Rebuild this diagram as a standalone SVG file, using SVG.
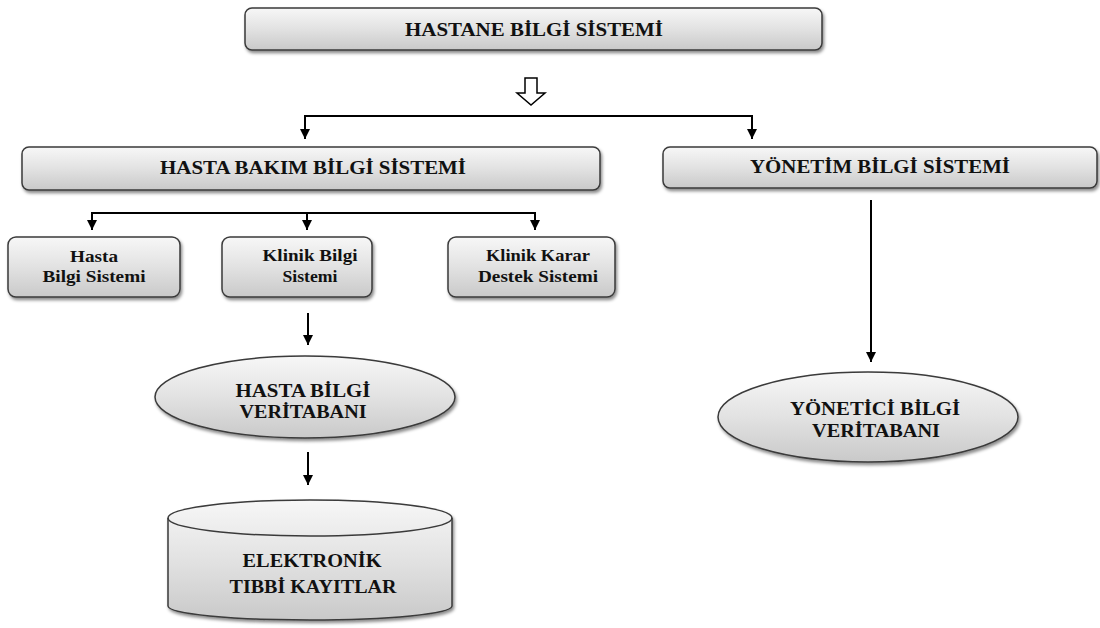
<svg xmlns="http://www.w3.org/2000/svg" width="1100" height="628" viewBox="0 0 1100 628">
<defs>
<linearGradient id="g" x1="0" y1="0" x2="0" y2="1">
<stop offset="0" stop-color="#f7f7f7"/>
<stop offset="0.5" stop-color="#e2e2e2"/>
<stop offset="1" stop-color="#c9c9c9"/>
</linearGradient>
<filter id="sh" x="-10%" y="-20%" width="120%" height="150%">
<feDropShadow dx="1.5" dy="2.5" stdDeviation="1.5" flood-color="#000" flood-opacity="0.45"/>
</filter>
<marker id="a" viewBox="0 0 10 10" refX="10" refY="5" markerWidth="10" markerHeight="10" markerUnits="userSpaceOnUse" orient="auto">
<path d="M0,0 L10,5 L0,10 z" fill="#000"/>
</marker>
</defs>
<style>
.box{fill:url(#g);stroke:#3a3a3a;stroke-width:1.5;filter:url(#sh)}
.t{font-family:"Liberation Serif",serif;font-weight:bold;fill:#111;text-anchor:middle}
.big{font-size:18px}
.db{font-size:19px}
.sm{font-size:17px}
.c{fill:none;stroke:#000;stroke-width:2}
</style>
<rect width="1100" height="628" fill="#fff"/>
<g id="connectors">
<path d="M525,78 h12 v15 h8 l-14,12 l-14,-12 h8 z" fill="#fff" stroke="#000" stroke-width="1.5"/>
<path class="c" d="M305,139 V116 H752 V139" marker-end="url(#a)"/>
<path class="c" d="M305,116 V139" marker-end="url(#a)"/>
<path class="c" d="M92,230 V213 H535 V230" marker-end="url(#a)"/>
<path class="c" d="M92,213 V230" marker-end="url(#a)"/>
<path class="c" d="M307,213 V230" marker-end="url(#a)"/>
<path class="c" d="M308,313 V345" marker-end="url(#a)"/>
<path class="c" d="M308,452 V485" marker-end="url(#a)"/>
<path class="c" d="M871,200 V362" marker-end="url(#a)"/>
</g>
<g id="n-hbs">
<rect class="box" x="245" y="8" width="577" height="42" rx="7"/>
<text class="t big" x="534" y="36" textLength="258" lengthAdjust="spacingAndGlyphs">HASTANE  BİLGİ SİSTEMİ</text>
</g>
<g id="n-hbbs">
<rect class="box" x="22" y="147" width="578" height="43" rx="7"/>
<text class="t big" x="313" y="174" textLength="306" lengthAdjust="spacingAndGlyphs">HASTA BAKIM BİLGİ SİSTEMİ</text>
</g>
<g id="n-ybs">
<rect class="box" x="663" y="147" width="434" height="41" rx="7"/>
<text class="t big" x="880" y="173" textLength="260" lengthAdjust="spacingAndGlyphs">YÖNETİM  BİLGİ SİSTEMİ</text>
</g>
<g id="n-hasta">
<rect class="box" x="8" y="237" width="172" height="60" rx="8"/>
<text class="t sm" x="94" y="262" textLength="48" lengthAdjust="spacingAndGlyphs">Hasta</text>
<text class="t sm" x="94" y="282" textLength="103" lengthAdjust="spacingAndGlyphs">Bilgi Sistemi</text>
</g>
<g id="n-klinik">
<rect class="box" x="222" y="237" width="150" height="60" rx="8"/>
<text class="t sm" x="310" y="261" textLength="95" lengthAdjust="spacingAndGlyphs">Klinik Bilgi</text>
<text class="t sm" x="310" y="282" textLength="55" lengthAdjust="spacingAndGlyphs">Sistemi</text>
</g>
<g id="n-karar">
<rect class="box" x="448" y="237" width="167" height="60" rx="8"/>
<text class="t sm" x="538" y="261" textLength="104" lengthAdjust="spacingAndGlyphs">Klinik Karar</text>
<text class="t sm" x="538" y="282" textLength="120" lengthAdjust="spacingAndGlyphs">Destek Sistemi</text>
</g>
<g id="n-hbv">
<ellipse class="box" cx="305" cy="397" rx="150" ry="41"/>
<text class="t db" x="303" y="397" textLength="135" lengthAdjust="spacingAndGlyphs">HASTA BİLGİ</text>
<text class="t db" x="303" y="418" textLength="127" lengthAdjust="spacingAndGlyphs">VERİTABANI</text>
</g>
<g id="n-ybv">
<ellipse class="box" cx="868" cy="417" rx="150" ry="45"/>
<text class="t db" x="875" y="415" textLength="170" lengthAdjust="spacingAndGlyphs">YÖNETİCİ  BİLGİ</text>
<text class="t db" x="876" y="437" textLength="128" lengthAdjust="spacingAndGlyphs">VERİTABANI</text>
</g>
<g id="n-etk">
<path class="box" d="M168,518 A142,18 0 0 1 452,518 V606 A142,14 0 0 1 168,606 Z"/>
<path d="M168,518 A142,18 0 0 0 452,518" fill="none" stroke="#3a3a3a" stroke-width="1.5"/>
<text class="t db" x="312" y="567" textLength="139" lengthAdjust="spacingAndGlyphs">ELEKTRONİK</text>
<text class="t db" x="313" y="593" textLength="167" lengthAdjust="spacingAndGlyphs">TIBBİ KAYITLAR</text>
</g>
</svg>
